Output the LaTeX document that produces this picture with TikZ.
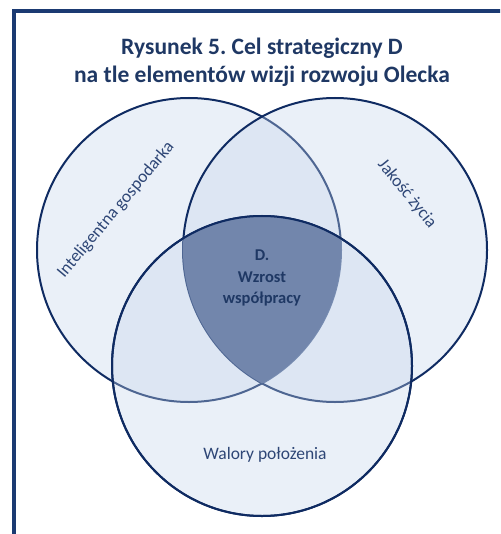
\documentclass[tikz,border=0pt]{standalone}
\usepackage{fontspec}
\setmainfont{Carlito}
\frenchspacing
\definecolor{navy}{HTML}{1F3864}
\definecolor{ring}{HTML}{0F2B62}
\definecolor{fillc}{HTML}{C5D5EC}
\definecolor{core}{HTML}{7286AC}
\definecolor{lbl}{HTML}{2E4676}
\definecolor{framec}{HTML}{1B3A72}
\begin{document}
\begin{tikzpicture}[x=1pt,y=-1pt,
  ringfill/.style={fill=fillc, fill opacity=0.35, draw=ring, draw opacity=1, line width=2pt},
  ringline/.style={draw=ring, line width=2pt},
  framestyle/.style={draw=framec, line width=4pt, line join=miter},
  label/.style={text=lbl, font=\fontsize{17.5}{21}\selectfont, inner sep=0pt},
  corelabel/.style={text=navy, font=\bfseries\fontsize{16.5}{21.5}\selectfont, align=center, inner sep=0pt},
  titlestyle/.style={text=navy, font=\bfseries\fontsize{23.5}{28}\selectfont, align=center, inner sep=0pt}]
\useasboundingbox (0,0) rectangle (500,534);
\fill[white] (0,0) rectangle (500,534);
\begin{scope}
\clip (0,0) rectangle (500,534);
\draw[framestyle] (14,560) -- (14,11.3) -- (520,11.3);
\end{scope}
% circles
\filldraw[ringfill] (189,250) circle (152);
\filldraw[ringfill] (335,250) circle (152);
\filldraw[ringfill] (262,366) circle (150);
\begin{scope}
  \clip (189,250) circle (152);
  \clip (335,250) circle (152);
  \fill[core] (262,366) circle (150);
\end{scope}
\draw[ringline] (262,366) circle (150);
% texts
\node[titlestyle] (title) at (262,62) {Rysunek 5. Cel strategiczny D\\na tle elementów wizji rozwoju Olecka};
\node[label, rotate=50] (intel) at (116,210) {Inteligentna gospodarka};
\node[label, rotate=-51] (jakosc) at (407,194) {Jakość życia};
\node[label] (walory) at (265,455) {Walory położenia};
\node[corelabel] (core) at (262,278) {D.\\Wzrost\\współpracy};
\end{tikzpicture}
\end{document}
